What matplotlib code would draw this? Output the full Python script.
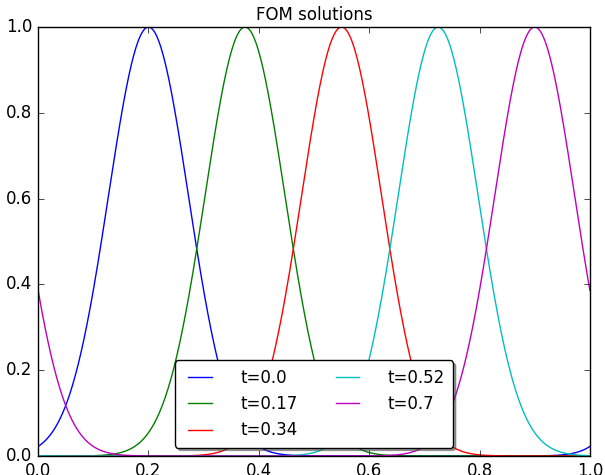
import numpy as np
import matplotlib
matplotlib.use("Agg")
import matplotlib.pyplot as plt

plt.style.use("classic")

# snapshot times and the pulse centre at each time (periodic domain [0, 1])
times = [0.0, 0.17, 0.34, 0.52, 0.7]
centers = [0.2, 0.375, 0.55, 0.725, 0.9]
colors = ["b", "g", "r", "c", "m"]
width = 0.0725

x = np.linspace(0.0, 1.0, 1001)

fig = plt.figure(figsize=(6.05, 4.75), dpi=100)
ax = fig.add_axes([0.063, 0.04, 0.912, 0.903])

for t, c, col in zip(times, centers, colors):
    d = (x - c + 0.5) % 1.0 - 0.5
    u = np.exp(-d ** 2 / (2 * width ** 2))
    ax.plot(x, u, color=col, label=f"t={t}")

ax.set_xlim(0, 1)
ax.set_ylim(0, 1)
ax.set_title("FOM solutions", fontsize=12)
ax.tick_params(labelsize=12)
ax.legend(loc="lower center", ncol=2, fancybox=True, shadow=True, fontsize=12,
          handletextpad=1.4, borderpad=0.5)

fig.savefig("out.png", dpi=100)
